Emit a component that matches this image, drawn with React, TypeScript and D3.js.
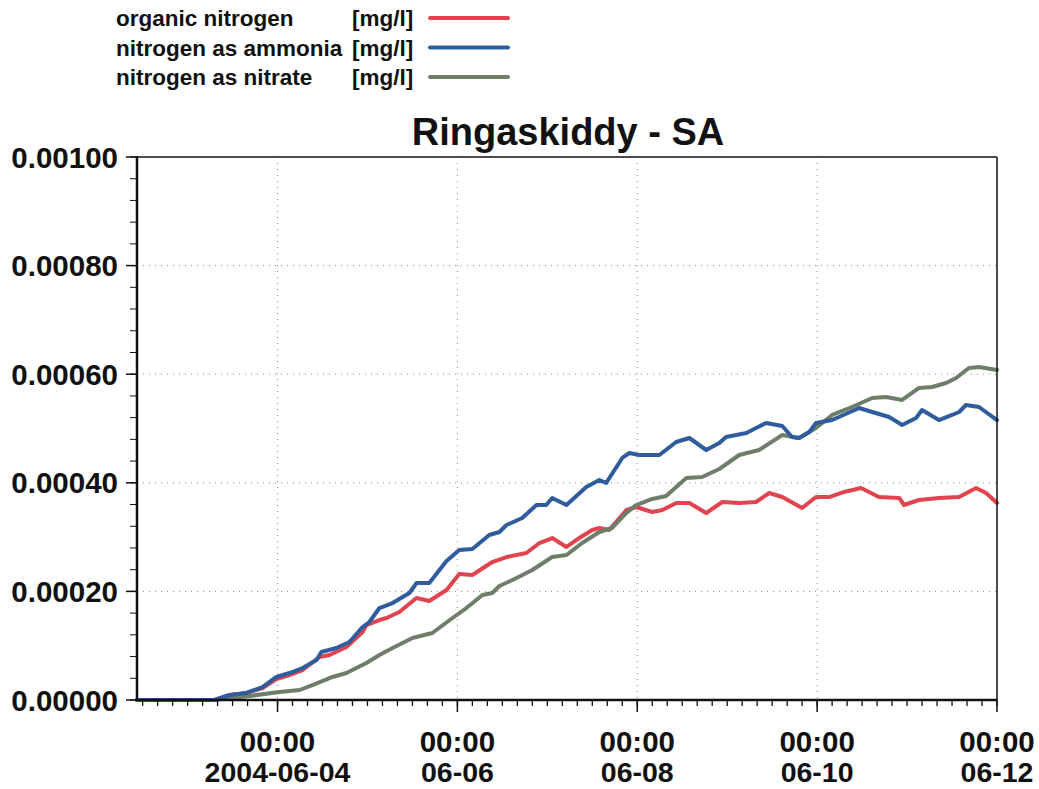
import * as d3 from "d3";

const WIDTH = 1039;
const HEIGHT = 789;
const PLOT = { left: 137, right: 997, top: 157, bottom: 700 };
const FONT = "'Liberation Sans', Arial, sans-serif";
const GRID_COLOR = "#8a8a8a";

// hours after 2004-06-04 00:00, value in mg/l
const START_HOUR = -37.5;
const END_HOUR = 192;

const organicNitrogen: [number, number][] = [
  [-37.5, 0], [-16.8, 0], [-12.8, 0.0000092], [-8.3, 0.0000129], [-4, 0.0000221], [-0.3, 0.0000387],
  [3.2, 0.000046], [6.7, 0.0000552], [11.2, 0.0000792], [13.9, 0.0000829], [18.4, 0.0000976],
  [22.7, 0.0001252], [23.7, 0.0001381], [27.2, 0.0001473], [29.1, 0.000151], [32.5, 0.0001621],
  [37.1, 0.0001878], [40.5, 0.0001823], [45.1, 0.0002026], [48.5, 0.000232], [52, 0.0002302],
  [57.3, 0.0002541], [61.1, 0.0002633], [66.4, 0.0002707], [69.9, 0.0002891], [73.3, 0.0002983],
  [77.1, 0.0002818], [80.5, 0.0002983], [84, 0.0003131], [85.9, 0.0003168], [88.5, 0.0003131],
  [93.1, 0.0003499], [95.7, 0.0003554], [100, 0.0003462], [102.7, 0.0003499], [106.4, 0.0003628],
  [109.9, 0.0003628], [114.4, 0.0003444], [118.7, 0.0003646], [123.2, 0.0003628], [127.7, 0.0003646],
  [131.2, 0.0003812], [134.7, 0.0003738], [140, 0.0003536], [143.7, 0.0003738], [147.2, 0.0003738],
  [151.2, 0.0003831], [155.7, 0.0003904], [160.5, 0.0003738], [165.9, 0.000372], [167.2, 0.0003591],
  [171.2, 0.0003683], [176.5, 0.000372], [181.9, 0.0003738], [186.4, 0.0003904], [189.1, 0.0003812],
  [192, 0.0003628],
];

const ammoniaNitrogen: [number, number][] = [
  [-37.5, 0], [-16.8, 0], [-12.8, 0.0000092], [-8.3, 0.0000129], [-4, 0.0000239], [-0.3, 0.0000424],
  [3.2, 0.0000497], [6.7, 0.0000589], [10.4, 0.0000737], [11.7, 0.0000884], [15.7, 0.0000958],
  [19.2, 0.0001068], [22.7, 0.0001344], [24.5, 0.0001436], [27.2, 0.0001694], [30.7, 0.0001786],
  [32.5, 0.000186], [35.2, 0.0001971], [37.1, 0.0002155], [40.5, 0.0002155], [45.1, 0.000256],
  [48.5, 0.0002762], [52, 0.0002781], [56.5, 0.0003039], [59.2, 0.0003094], [61.1, 0.0003223],
  [65.3, 0.0003352], [69.1, 0.0003591], [71.7, 0.0003591], [73.3, 0.000372], [77.1, 0.0003591],
  [82.4, 0.0003923], [85.9, 0.0004052], [87.7, 0.0003996], [92, 0.0004457], [93.9, 0.0004549],
  [96.5, 0.0004512], [101.9, 0.0004512], [106.4, 0.0004751], [109.9, 0.0004825], [114.4, 0.0004604],
  [117.9, 0.0004733], [119.7, 0.0004843], [125.1, 0.0004917], [130.4, 0.0005101], [134.7, 0.0005046],
  [137.3, 0.0004843], [139.2, 0.0004825], [141.9, 0.0004935], [143.7, 0.0005101], [148, 0.0005156],
  [155.2, 0.0005377], [158.7, 0.0005304], [163.2, 0.0005212], [166.7, 0.0005064], [170.4, 0.0005193],
  [172, 0.0005341], [176.5, 0.0005156], [180, 0.0005249], [181.9, 0.0005304], [183.7, 0.0005433],
  [187.2, 0.0005396], [192, 0.0005156],
];

const nitrateNitrogen: [number, number][] = [
  [-37.5, 0], [-16.8, 0], [-12.8, 0.0000037], [-7.5, 0.0000074], [0.5, 0.0000147], [5.9, 0.0000184],
  [9.3, 0.0000276], [14.7, 0.0000424], [18.4, 0.0000497], [23.7, 0.0000681], [27.2, 0.0000829],
  [30.7, 0.0000958], [36, 0.0001142], [41.3, 0.0001234], [46.7, 0.000151], [50.4, 0.0001694],
  [54.7, 0.0001934], [57.3, 0.0001971], [59.2, 0.0002099], [62.7, 0.000221], [68, 0.0002394],
  [73.3, 0.0002633], [77.1, 0.000267], [81.3, 0.0002891], [85.9, 0.0003094], [89.3, 0.0003168],
  [93.1, 0.0003444], [95.7, 0.0003591], [100, 0.0003702], [103.7, 0.0003757], [109.1, 0.0004088],
  [113.3, 0.0004107], [117.9, 0.0004254], [123.2, 0.0004512], [128.5, 0.0004604], [134.7, 0.000488],
  [139.2, 0.0004825], [143.7, 0.0005009], [148, 0.0005249], [153.3, 0.0005396], [158.7, 0.0005562],
  [162.4, 0.000558], [166.7, 0.0005525], [171.2, 0.0005746], [174.7, 0.0005764], [178.4, 0.0005838],
  [181.1, 0.000593], [184.5, 0.0006114], [187.2, 0.0006133], [192, 0.0006077],
];

const seriesNames = ["organic nitrogen", "nitrogen as ammonia", "nitrogen as nitrate"];
const seriesColors = ["#e2444f", "#2e5c9d", "#6e7f69"];
const seriesData = [organicNitrogen, ammoniaNitrogen, nitrateNitrogen];
const drawOrder = [0, 2, 1];

const yMajorTicks = [0, 0.0002, 0.0004, 0.0006, 0.0008, 0.001];
const xLabelDays = ["2004-06-04", "06-06", "06-08", "06-10", "06-12"];

const BASE = new Date(2004, 5, 4, 0, 0);
const toDate = (hours: number) => new Date(BASE.getTime() + hours * 3600 * 1000);

export default function App() {
  const x = d3.scaleTime().domain([toDate(START_HOUR), toDate(END_HOUR)]).range([PLOT.left, PLOT.right]);
  const y = d3.scaleLinear().domain([0, 0.001]).range([PLOT.bottom, PLOT.top]);

  const line = d3
    .line<[number, number]>()
    .x((d) => x(toDate(d[0])))
    .y((d) => y(d[1]));

  const yMinor = d3.range(0, 0.001 + 1e-9, 0.00004);
  const xMinor = d3.timeHour.every(4)!.range(toDate(START_HOUR), toDate(END_HOUR + 0.01));
  const xMajor = xLabelDays.map((_, i) => toDate(i * 48));

  return (
    <svg width={WIDTH} height={HEIGHT} style={{ position: "absolute", left: 0, top: 0, background: "#fff" }} fontFamily={FONT}>
      <rect x="0" y="0" width={WIDTH} height={HEIGHT} fill="#fff" />

      {/* legend */}
      {seriesNames.map((name, i) => {
        const cy = 18 + i * 29.5;
        return (
          <g key={name}>
            <text x="116" y={cy + 8} fontSize="22.5" fontWeight="700" fill="#111">
              {name}
            </text>
            <text x="352" y={cy + 8} fontSize="22.5" fontWeight="700" fill="#111">
              [mg/l]
            </text>
            <line x1="430" x2="508" y1={cy} y2={cy} stroke={seriesColors[i]} strokeWidth="4" strokeLinecap="round" />
          </g>
        );
      })}

      {/* title */}
      <text x={568} y="145" fontSize="38" fontWeight="700" textAnchor="middle" fill="#111">
        Ringaskiddy - SA
      </text>

      {/* grid */}
      {yMajorTicks.slice(1, -1).map((t) => (
        <line key={t} x1={PLOT.left} x2={PLOT.right} y1={y(t)} y2={y(t)} stroke={GRID_COLOR} strokeWidth="1" strokeDasharray="1 5" />
      ))}
      {xMajor.slice(0, -1).map((d) => (
        <line key={+d} x1={x(d)} x2={x(d)} y1={PLOT.top} y2={PLOT.bottom} stroke={GRID_COLOR} strokeWidth="1" strokeDasharray="1 5" />
      ))}

      {/* series */}
      {drawOrder.map((i) => (
        <path
          key={seriesNames[i]}
          d={line(seriesData[i]) ?? undefined}
          fill="none"
          stroke={seriesColors[i]}
          strokeWidth="4"
          strokeLinejoin="round"
          strokeLinecap="round"
        />
      ))}

      {/* frame */}
      <line x1={PLOT.left} x2={PLOT.right} y1={PLOT.top} y2={PLOT.top} stroke="#111" strokeWidth="1.5" />
      <line x1={PLOT.right} x2={PLOT.right} y1={PLOT.top} y2={PLOT.bottom} stroke="#111" strokeWidth="1.5" />
      <line x1={PLOT.left} x2={PLOT.left} y1={PLOT.top - 1} y2={PLOT.bottom + 1} stroke="#111" strokeWidth="2.5" />
      <line x1={PLOT.left} x2={PLOT.right} y1={PLOT.bottom} y2={PLOT.bottom} stroke="#111" strokeWidth="2.5" />

      {/* y axis */}
      {yMinor.map((t) => (
        <line key={t} x1={PLOT.left - 7} x2={PLOT.left} y1={y(t)} y2={y(t)} stroke="#111" strokeWidth="1" />
      ))}
      {yMajorTicks.map((t) => (
        <g key={t}>
          <line x1={PLOT.left - 11} x2={PLOT.left} y1={y(t)} y2={y(t)} stroke="#111" strokeWidth="1.5" />
          <text x="118" y={y(t) + 10.5} fontSize="29.5" fontWeight="700" textAnchor="end" fill="#111">
            {d3.format(".5f")(t)}
          </text>
        </g>
      ))}

      {/* x axis */}
      {xMinor.map((d) => (
        <line key={+d} x1={x(d)} x2={x(d)} y1={PLOT.bottom} y2={PLOT.bottom + 6} stroke="#111" strokeWidth="1.3" />
      ))}
      {xMajor.map((d, i) => (
        <g key={+d}>
          <line x1={x(d)} x2={x(d)} y1={PLOT.bottom} y2={PLOT.bottom + 12} stroke="#111" strokeWidth="1.5" />
          <text x={x(d)} y="752" fontSize="29.5" fontWeight="700" textAnchor="middle" fill="#111">
            {d3.timeFormat("%H:%M")(d)}
          </text>
          <text x={x(d)} y="782" fontSize="28.5" fontWeight="700" textAnchor="middle" fill="#111">
            {xLabelDays[i]}
          </text>
        </g>
      ))}
    </svg>
  );
}
